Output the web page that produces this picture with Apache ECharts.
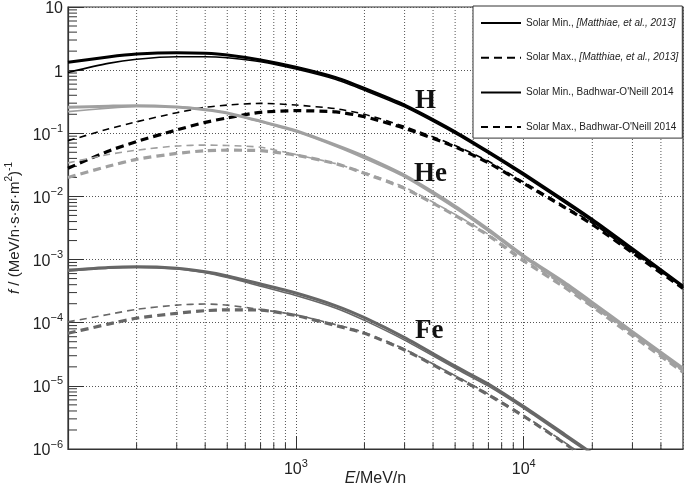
<!DOCTYPE html>
<html><head><meta charset="utf-8">
<script src="https://cdn.jsdelivr.net/npm/echarts@6/dist/echarts.min.js"></script>
<style>html,body{margin:0;padding:0;background:#fff}#c{width:685px;height:486px}</style>
</head><body><div id="c"></div>
<script>
// Energy grid (MeV/n)
const energy = [100,150,200,300,400,500,700,1000,1500,2000,3000,5000,7000,10000,15000,20000,30000,50000];

// H
const H_min_matthiae = [1.33,1.62,1.80,1.89,1.85,1.74,1.45,1.11,0.76,0.515,0.28,0.106,0.051,0.0228,0.0087,0.0043,0.00148,0.00038];
const H_max_matthiae = [0.028,0.052,0.074,0.113,0.149,0.175,0.215,0.228,0.218,0.183,0.12,0.061,0.034,0.016,0.0068,0.0036,0.00128,0.00035];
const H_min_bon      = [0.92,1.28,1.49,1.63,1.63,1.57,1.36,1.04,0.71,0.48,0.262,0.099,0.048,0.0213,0.0081,0.0040,0.00139,0.00036];
const H_max_bon      = [0.076,0.117,0.152,0.212,0.258,0.28,0.298,0.28,0.245,0.2,0.128,0.064,0.036,0.0168,0.0071,0.0038,0.00132,0.00036];
// He
const He_min_matthiae = [0.258,0.268,0.274,0.26,0.236,0.21,0.155,0.11,0.065,0.043,0.0215,0.007,0.0030,0.00115,0.00044,0.00021,0.000072,0.000019];
const He_max_matthiae = [0.020,0.030,0.0387,0.048,0.053,0.054,0.053,0.045,0.033,0.0232,0.0134,0.005,0.0024,0.00095,0.00037,0.00018,0.000062,0.0000165];
const He_min_bon      = [0.22,0.25,0.265,0.262,0.24,0.21,0.152,0.106,0.062,0.040,0.0203,0.0065,0.0028,0.00107,0.00041,0.000195,0.000067,0.0000175];
const He_max_bon      = [0.034,0.046,0.054,0.063,0.065,0.064,0.060,0.046,0.033,0.024,0.014,0.0052,0.0025,0.0010,0.00039,0.000185,0.000064,0.000017];
// Fe
const Fe_min_matthiae = [6.8e-4,7.5e-4,7.7e-4,7.3e-4,6.4e-4,5.5e-4,4.1e-4,2.95e-4,1.85e-4,1.2e-4,5.8e-5,2.05e-5,1.07e-5,4.7e-6,1.74e-6,8.5e-7,2.9e-7,7.5e-8];
const Fe_max_matthiae = [6.8e-5,9.5e-5,1.18e-4,1.41e-4,1.55e-4,1.6e-4,1.58e-4,1.3e-4,9.0e-5,6.8e-5,3.7e-5,1.4e-5,7.2e-6,3.3e-6,1.25e-6,6e-7,2e-7,5e-8];
const Fe_min_bon      = [6.6e-4,7.3e-4,7.5e-4,7.1e-4,6.2e-4,5.2e-4,3.8e-4,2.7e-4,1.7e-4,1.09e-4,5.3e-5,1.9e-5,9.9e-6,4.4e-6,1.62e-6,8e-7,2.7e-7,7e-8];
const Fe_max_bon      = [1.03e-4,1.35e-4,1.63e-4,1.9e-4,1.98e-4,1.9e-4,1.62e-4,1.33e-4,9.3e-5,7.0e-5,3.8e-5,1.45e-5,7.4e-6,3.4e-6,1.3e-6,6.2e-7,2.1e-7,5.2e-8];

// Legend names
const legendNames = [
  'Solar Min., [Matthiae, et al., 2013]',
  'Solar Max., [Matthiae, et al., 2013]',
  'Solar Min., Badhwar-O\'Neill 2014',
  'Solar Max., Badhwar-O\'Neill 2014'
];
const elementLabels = ['H','He','Fe'];

// Axis ticks
const xMin = 100, xMax = 50000, yMin = 1e-6, yMax = 10;
const xMinorTicks = [200,300,400,500,600,700,800,900,2000,3000,4000,5000,6000,7000,8000,9000,20000,30000,40000];
const yMinorTicks = [];
for (let e = -6; e < 1; e++) for (let m = 2; m <= 9; m++) yMinorTicks.push(m * Math.pow(10, e));

const colors = { H: '#000000', He: '#a0a0a0', Fe: '#676767' };

function mk(name, vals, color, width, dash) {
  return {
    name: name, type: 'line', smooth: 0.22, symbol: 'none', showSymbol: false, silent: true,
    data: energy.map((e, i) => [e, vals[i]]),
    lineStyle: { color: color, width: width, type: dash || 'solid', cap: 'butt' },
    itemStyle: { color: color },
    z: 3
  };
}

const thickDash = [8, 5], thinDash = [7, 5];
const series = [
  mk(legendNames[0], H_min_matthiae, colors.H, 3, null),
  mk(legendNames[1], H_max_matthiae, colors.H, 3.2, thickDash),
  mk(legendNames[2], H_min_bon, colors.H, 1.6, null),
  mk(legendNames[3], H_max_bon, colors.H, 1.6, thinDash),
  mk(legendNames[0], He_min_matthiae, colors.He, 3, null),
  mk(legendNames[1], He_max_matthiae, colors.He, 3.2, thickDash),
  mk(legendNames[2], He_min_bon, colors.He, 1.6, null),
  mk(legendNames[3], He_max_bon, colors.He, 1.6, thinDash),
  mk(legendNames[0], Fe_min_matthiae, colors.Fe, 3, null),
  mk(legendNames[1], Fe_max_matthiae, colors.Fe, 3.2, thickDash),
  mk(legendNames[2], Fe_min_bon, colors.Fe, 1.6, null),
  mk(legendNames[3], Fe_max_bon, colors.Fe, 1.6, thinDash)
];

// minor x grid lines + ticks
series.push({
  type: 'custom', coordinateSystem: 'cartesian2d', silent: true, z: 1,
  data: xMinorTicks.map(v => [v, 1]),
  renderItem: function (params, api) {
    const x = api.value(0);
    const top = api.coord([x, yMax]);
    const bot = api.coord([x, yMin]);
    return { type: 'group', children: [
      { type: 'line', shape: { x1: top[0], y1: top[1], x2: bot[0], y2: bot[1] },
        style: { stroke: '#555', lineWidth: 1, lineDash: [1, 2] } },
      { type: 'line', shape: { x1: bot[0], y1: bot[1], x2: bot[0], y2: bot[1] - 6 },
        style: { stroke: '#333', lineWidth: 1 } }
    ]};
  }
});
// minor y ticks
series.push({
  type: 'custom', coordinateSystem: 'cartesian2d', silent: true, z: 1,
  data: yMinorTicks.map(v => [1000, v]),
  renderItem: function (params, api) {
    const y = api.value(1);
    const p = api.coord([xMin, y]);
    return { type: 'line', shape: { x1: p[0], y1: p[1], x2: p[0] + 9, y2: p[1] },
      style: { stroke: '#333', lineWidth: 1 } };
  }
});

function supLabel(v, isY) {
  const e = Math.round(Math.log10(v));
  if (Math.abs(Math.log10(v) - e) > 1e-6) return '';
  if (isY) {
    if (e === 1) return '{b|10}';
    if (e === 0) return '{b|1}';
    return '{b|10}{s|' + (e < 0 ? '\u2212' + (-e) : e) + '}';
  }
  if (e === 3 || e === 4) return '{b|10}{s|' + e + '}';
  return '';
}
const richTick = {
  b: { fontSize: 16, fontFamily: 'Liberation Sans, Arial, sans-serif', color: '#222', lineHeight: 20, verticalAlign: 'bottom' },
  s: { fontSize: 11, fontFamily: 'Liberation Sans, Arial, sans-serif', color: '#222', lineHeight: 20, verticalAlign: 'top' }
};

const chart = echarts.init(document.getElementById('c'), null, { renderer: 'canvas' });
chart.setOption({
  animation: false,
  backgroundColor: '#fff',
  grid: { left: 68, right: 2, top: 7, bottom: 37, show: true, borderColor: '#333', borderWidth: 1.2,
          containLabel: false, outerBoundsMode: 'none' },
  legend: {
    data: legendNames, orient: 'vertical', left: 473, top: 6,
    padding: [12, 4, 6, 7], itemGap: 24.7, itemWidth: 40, itemHeight: 10,
    backgroundColor: '#fff', borderColor: '#333', borderWidth: 1, borderRadius: 0,
    selectedMode: false, z: 10,
    itemStyle: { opacity: 0, borderWidth: 0 },
    formatter: function (name) {
      const m = name.match(/^(Solar M[a-z]+\., )(\[.*\])$/);
      if (m) return '{n|' + m[1] + '}{it|' + m[2] + '}';
      return '{n|' + name + '}';
    },
    textStyle: {
      fontSize: 10, color: '#222', fontFamily: 'Liberation Sans, Arial, sans-serif',
      rich: {
        n: { fontSize: 10, color: '#222', fontFamily: 'Liberation Sans, Arial, sans-serif' },
        it: { fontSize: 10, color: '#222', fontStyle: 'italic', fontFamily: 'Liberation Sans, Arial, sans-serif' }
      }
    }
  },
  xAxis: {
    type: 'log', logBase: 10, min: xMin, max: xMax, splitNumber: 3,
    name: '{i|E}{n|/MeV/n}', nameLocation: 'middle', nameGap: 30, nameMoveOverlap: false,
    nameTextStyle: { verticalAlign: 'middle', rich: {
      i: { fontSize: 16, fontStyle: 'italic', fontFamily: 'Liberation Sans, Arial, sans-serif', color: '#222' },
      n: { fontSize: 16, fontFamily: 'Liberation Sans, Arial, sans-serif', color: '#222' } } },
    axisLine: { show: true, lineStyle: { color: '#333', width: 1.2 } },
    axisTick: { show: true, inside: true, length: 13, lineStyle: { color: '#333', width: 1 } },
    axisLabel: { margin: 9, formatter: v => supLabel(v, false), rich: richTick, showMinLabel: false, showMaxLabel: false },
    splitLine: { show: true, lineStyle: { color: '#555', width: 1, type: [1, 2] } },
    minorTick: { show: false }
  },
  yAxis: {
    type: 'log', logBase: 10, min: yMin, max: yMax, splitNumber: 7,
    name: '{i|f}{n| / (MeV/n\u00b7s\u00b7sr\u00b7m}{s|2}{n|)}{s|-1}', nameLocation: 'middle', nameGap: 46, nameRotate: 90,
    nameMoveOverlap: false,
    nameTextStyle: { rich: {
      i: { fontSize: 15, fontStyle: 'italic', fontFamily: 'Liberation Sans, Arial, sans-serif', color: '#222', lineHeight: 18, verticalAlign: 'bottom' },
      n: { fontSize: 15, fontFamily: 'Liberation Sans, Arial, sans-serif', color: '#222', lineHeight: 18, verticalAlign: 'bottom' },
      s: { fontSize: 10, fontFamily: 'Liberation Sans, Arial, sans-serif', color: '#222', lineHeight: 18, verticalAlign: 'top' } } },
    axisLine: { show: true, lineStyle: { color: '#333', width: 1.2 } },
    axisTick: { show: true, inside: true, length: 16, lineStyle: { color: '#333', width: 1 } },
    axisLabel: { margin: 5, formatter: v => supLabel(v, true), rich: richTick },
    splitLine: { show: true, lineStyle: { color: '#555', width: 1, type: [1, 2] } }
  },
  graphic: [
    { type: 'text', left: 415, top: 88, z: 20, style: { text: elementLabels[0], font: 'bold 27px "Liberation Serif", "Times New Roman", serif', fill: '#111' } },
    { type: 'text', left: 414, top: 161, z: 20, style: { text: elementLabels[1], font: 'bold 27px "Liberation Serif", "Times New Roman", serif', fill: '#111' } },
    { type: 'text', left: 415, top: 318, z: 20, style: { text: elementLabels[2], font: 'bold 27px "Liberation Serif", "Times New Roman", serif', fill: '#111' } }
  ],
  series: series
});
</script>
</body></html>
